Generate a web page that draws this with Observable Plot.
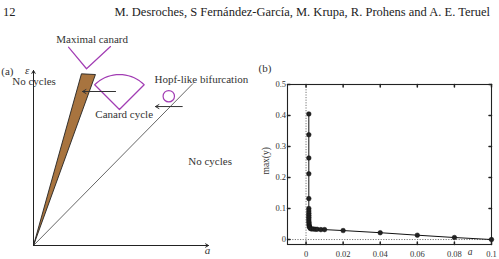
<!DOCTYPE html>
<html>
<head>
<meta charset="utf-8">
<script src="https://cdn.jsdelivr.net/npm/d3@7"></script>
<script src="https://cdn.jsdelivr.net/npm/@observablehq/plot@0.6"></script>
<style>
  html, body { margin: 0; padding: 0; background: #fff; }
  #page { position: relative; width: 499px; height: 259px; overflow: hidden; font-family: "Liberation Serif", "DejaVu Serif", serif; color: #222; }
  #page svg, #page svg text { font-family: "Liberation Serif", "DejaVu Serif", serif !important; }
  .hdr { position: absolute; top: 5px; font-size: 12.5px; white-space: nowrap; }
  .panel { position: absolute; }
</style>
</head>
<body>
<div id="page">
  <div class="hdr" style="left:3px;">12</div>
  <div class="hdr" style="right:9px;">M. Desroches, S Fernández-García, M. Krupa, R. Prohens and A. E. Teruel</div>
  <div class="panel" id="pa" style="left:0px; top:30px;"></div>
  <div class="panel" id="pb" style="left:250px; top:50px;"></div>
</div>
<script>
// ---- Panel (b): amplitude of the limit cycles, max(y) against a ----
const aValues = [0.0015, 0.0015, 0.0015, 0.0015, 0.0015, 0.0015, 0.0015, 0.0015, 0.0015, 0.0015,
                 0.0015, 0.0015, 0.0016, 0.0016, 0.0017, 0.0018, 0.0020, 0.0023, 0.003, 0.004,
                 0.005, 0.006, 0.008, 0.010, 0.02, 0.04, 0.06, 0.08, 0.1];
const maxY    = [0.405, 0.338, 0.263, 0.212, 0.132, 0.100, 0.092, 0.085, 0.078, 0.072,
                 0.066, 0.060, 0.055, 0.050, 0.046, 0.042, 0.039, 0.036, 0.034, 0.034,
                 0.033, 0.033, 0.032, 0.032, 0.029, 0.022, 0.014, 0.0065, 0];
const xTicks = [0, 0.02, 0.04, 0.06, 0.08, 0.1];
const xTickLabels = ["0", "0.02", "0.04", "0.06", "0.08", "0.1"];
const yTicks = [0, 0.1, 0.2, 0.3, 0.4, 0.5];
const yTickLabels = ["0", "0.1", "0.2", "0.3", "0.4", "0.5"];

// ---- Panel (a): schematic of the (a, ε) parameter plane (unit box = axis extent) ----
const wedge = [[0, 0], [0.274, 0.981], [0.354, 0.977], [0, 0]];           // canard region
const hopfLine = [[0, 0], [0.910, 0.924]];                                 // Hopf-like bifurcation
const maximalCanard = [[0.20, 1.133], [0.303, 1.01], [0.44, 1.137]];      // V glyph
const canardVertex = [0.491, 0.777];
const canardRadius = 0.2;
const hopfCircle = [0.773, 0.853];
const axesA = [
  {x1: 0, y1: 0, x2: 0, y2: 1},
  {x1: 0, y1: 0, x2: 1, y2: 0}
];
const arrows = [
  {x1: 0.469, y1: 0.88, x2: 0.28, y2: 0.88},
  {x1: 0.85, y1: 0.794, x2: 0.697, y2: 0.794}
];
const labelsA = [
  {x: 0.335, y: 1.177, text: "Maximal canard", anchor: "middle"},
  {x: 0.003, y: 0.937, text: "No cycles", anchor: "start"},
  {x: 0.518, y: 0.749, text: "Canard cycle", anchor: "middle"},
  {x: 0.959, y: 0.949, text: "Hopf-like bifurcation", anchor: "middle"},
  {x: 1.009, y: 0.482, text: "No cycles", anchor: "middle"}
];

const purple = "#a23db4";
const serif = "'Liberation Serif', 'DejaVu Serif', serif";

// sector outline of the canard cycle: vertex, arc from 135° to 45°, back to vertex
const sector = [canardVertex]
  .concat(d3.range(135, 44, -5).map(t => [
    canardVertex[0] + canardRadius * Math.cos(t * Math.PI / 180),
    canardVertex[1] + canardRadius * Math.sin(t * Math.PI / 180)
  ]))
  .concat([canardVertex]);

const plotA = Plot.plot({
  width: 250, height: 229,
  marginLeft: 33, marginRight: 42, marginTop: 40, marginBottom: 14,
  x: {domain: [0, 1], axis: null},
  y: {domain: [0, 1], axis: null},
  style: {fontFamily: serif, fontSize: "11px", color: "#222", overflow: "visible"},
  marks: [
    Plot.line(hopfLine, {stroke: "#555", strokeWidth: 0.9}),
    Plot.line(wedge, {fill: "#a8743f", stroke: "#222", strokeWidth: 0.9}),
    Plot.arrow(axesA, {x1: "x1", y1: "y1", x2: "x2", y2: "y2", stroke: "#222", strokeWidth: 1, headLength: 5}),
    Plot.line(maximalCanard, {stroke: purple, strokeWidth: 1.2}),
    Plot.line(sector, {stroke: purple, strokeWidth: 1.2}),
    Plot.dot([hopfCircle], {r: 5.7, stroke: purple, strokeWidth: 1.2, fill: "none"}),
    Plot.arrow(arrows, {x1: "x1", y1: "y1", x2: "x2", y2: "y2", stroke: "#333", strokeWidth: 1, headLength: 6}),
    Plot.text(labelsA, {x: "x", y: "y", text: "text", textAnchor: "anchor", fill: "#333", fontSize: 11}),
    Plot.text(["ε"], {x: -0.036, y: 1.0, fontStyle: "italic", fontSize: 11, fill: "#333"}),
    Plot.text(["a"], {x: 0.994, y: -0.03, fontStyle: "italic", fontSize: 11, fill: "#333"}),
    Plot.text(["(a)"], {x: -0.149, y: 0.994, fontSize: 11, fill: "#333"})
  ]
});
document.getElementById("pa").appendChild(plotA);

// short inward tick strokes drawn with the vector mark
const tickShape = {draw(ctx, l) { ctx.moveTo(0, 0); ctx.lineTo(0, -l); }};
const xMin = -0.01, xMax = 0.1, yMin = -0.016, yMax = 0.5;
const curve = aValues.map((a, i) => ({a, m: maxY[i]}));

const plotB = Plot.plot({
  width: 249, height: 209,
  marginLeft: 37, marginRight: 8, marginTop: 34, marginBottom: 15,
  x: {domain: [xMin, xMax]},
  y: {domain: [yMin, yMax]},
  style: {fontFamily: serif, fontSize: "8px", color: "#333", overflow: "visible"},
  marks: [
    Plot.ruleX([0], {stroke: "#666", strokeWidth: 0.9, strokeDasharray: "1.2,1.4"}),
    Plot.ruleY([0], {stroke: "#666", strokeWidth: 0.9, strokeDasharray: "1.2,1.4"}),
    Plot.frame({stroke: "#222", strokeWidth: 1.1}),
    Plot.vector(xTicks, {x: d => d, y: yMin, length: 2.5, rotate: 0, anchor: "start", shape: tickShape, stroke: "#222"}),
    Plot.vector(xTicks, {x: d => d, y: yMax, length: 2.5, rotate: 180, anchor: "start", shape: tickShape, stroke: "#222"}),
    Plot.vector(yTicks, {x: xMin, y: d => d, length: 2.5, rotate: 90, anchor: "start", shape: tickShape, stroke: "#222"}),
    Plot.vector(yTicks, {x: xMax, y: d => d, length: 2.5, rotate: -90, anchor: "start", shape: tickShape, stroke: "#222"}),
    Plot.axisX({ticks: xTicks, tickFormat: (d, i) => xTickLabels[i], tickSize: 0, tickPadding: 6, label: null, fontSize: 8.5}),
    Plot.axisY({ticks: yTicks, tickFormat: (d, i) => yTickLabels[i], tickSize: 0, tickPadding: 1.5, label: null, fontSize: 8.5}),
    Plot.line(curve, {x: "a", y: "m", stroke: "#111", strokeWidth: 1}),
    Plot.dot(curve, {x: "a", y: "m", r: 2.3, fill: "#222", stroke: "#111", strokeWidth: 0.5}),
    Plot.text(["a"], {frameAnchor: "bottom-right", dx: -19, dy: 10, fontStyle: "italic", fontSize: 9.5, fill: "#333"}),
    Plot.text(["max(y)"], {frameAnchor: "left", dx: -22, dy: 10, rotate: -90, fontSize: 9.5, fill: "#333"}),
    Plot.text(["(b)"], {frameAnchor: "top-left", dx: -29, dy: -20, fontSize: 11, fill: "#333"})
  ]
});
document.getElementById("pb").appendChild(plotB);
</script>
</body>
</html>
